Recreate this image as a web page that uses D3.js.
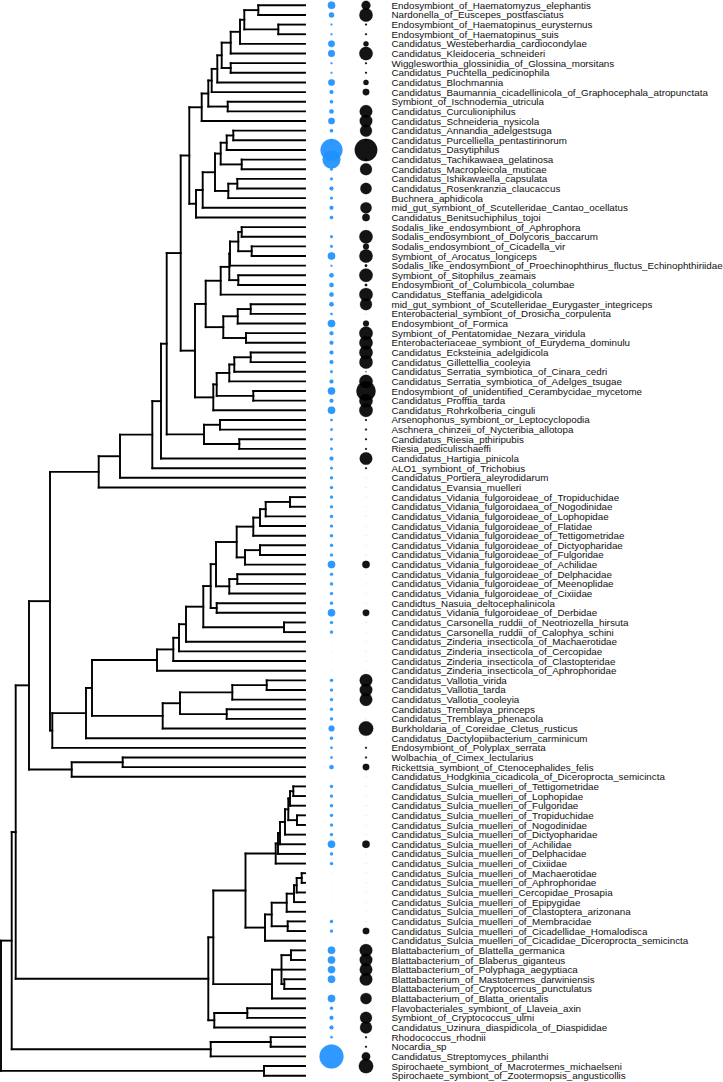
<!DOCTYPE html>
<html>
<head>
<meta charset="utf-8">
<script src="https://cdn.jsdelivr.net/npm/d3@7"></script>
<style>
  html, body { margin: 0; padding: 0; background: #fff; }
  svg { display: block; }
</style>
</head>
<body>
<svg id="chart" width="723" height="1082"></svg>
<script>
// ---------------- DATA ----------------
const tipLabels = [
  "Endosymbiont_of_Haematomyzus_elephantis",
  "Nardonella_of_Euscepes_postfasciatus",
  "Endosymbiont_of_Haematopinus_eurysternus",
  "Endosymbiont_of_Haematopinus_suis",
  "Candidatus_Westeberhardia_cardiocondylae",
  "Candidatus_Kleidoceria_schneideri",
  "Wigglesworthia_glossinidia_of_Glossina_morsitans",
  "Candidatus_Puchtella_pedicinophila",
  "Candidatus_Blochmannia",
  "Candidatus_Baumannia_cicadellinicola_of_Graphocephala_atropunctata",
  "Symbiont_of_Ischnodemia_utricula",
  "Candidatus_Curculioniphilus",
  "Candidatus_Schneideria_nysicola",
  "Candidatus_Annandia_adelgestsuga",
  "Candidatus_Purcelliella_pentastirinorum",
  "Candidatus_Dasytiphilus",
  "Candidatus_Tachikawaea_gelatinosa",
  "Candidatus_Macropleicola_muticae",
  "Candidatus_Ishikawaella_capsulata",
  "Candidatus_Rosenkranzia_claucaccus",
  "Buchnera_aphidicola",
  "mid_gut_symbiont_of_Scutelleridae_Cantao_ocellatus",
  "Candidatus_Benitsuchiphilus_tojoi",
  "Sodalis_like_endosymbiont_of_Aphrophora",
  "Sodalis_endosymbiont_of_Dolycoris_baccarum",
  "Sodalis_endosymbiont_of_Cicadella_vir",
  "Symbiont_of_Arocatus_longiceps",
  "Sodalis_like_endosymbiont_of_Proechinophthirus_fluctus_Echinophthiriidae",
  "Symbiont_of_Sitophilus_zeamais",
  "Endosymbiont_of_Columbicola_columbae",
  "Candidatus_Steffania_adelgidicola",
  "mid_gut_symbiont_of_Scutelleridae_Eurygaster_integriceps",
  "Enterobacterial_symbiont_of_Drosicha_corpulenta",
  "Endosymbiont_of_Formica",
  "Symbiont_of_Pentatomidae_Nezara_viridula",
  "Enterobacteriaceae_symbiont_of_Eurydema_dominulu",
  "Candidatus_Ecksteinia_adelgidicola",
  "Candidatus_Gillettellia_cooleyia",
  "Candidatus_Serratia_symbiotica_of_Cinara_cedri",
  "Candidatus_Serratia_symbiotica_of_Adelges_tsugae",
  "Endosymbiont_of_unidentified_Cerambycidae_mycetome",
  "Candidatus_Profftia_tarda",
  "Candidatus_Rohrkolberia_cinguli",
  "Arsenophonus_symbiont_or_Leptocyclopodia",
  "Aschnera_chinzeii_of_Nycteribia_allotopa",
  "Candidatus_Riesia_pthiripubis",
  "Riesia_pediculischaeffi",
  "Candidatus_Hartigia_pinicola",
  "ALO1_symbiont_of_Trichobius",
  "Candidatus_Portiera_aleyrodidarum",
  "Candidatus_Evansia_muelleri",
  "Candidatus_Vidania_fulgoroideae_of_Tropiduchidae",
  "Candidatus_Vidania_fulgoroidaea_of_Nogodinidae",
  "Candidatus_Vidania_fulgoroideae_of_Lophopidae",
  "Candidatus_Vidania_fulgoroideae_of_Flatidae",
  "Candidatus_Vidania_fulgoroideae_of_Tettigometridae",
  "Candidatus_Vidania_fulgoroideae_of_Dictyopharidae",
  "Candidatus_Vidania_fulgoroideae_of_Fulgoridae",
  "Candidatus_Vidania_fulgoroideae_of_Achilidae",
  "Candidatus_Vidania_fulgoroideae_of_Delphacidae",
  "Candidatus_Vidania_fulgoroideae_of_Meenoplidae",
  "Candidatus_Vidania_fulgoroideae_of_Cixiidae",
  "Candidtus_Nasuia_deltocephalinicola",
  "Candidatus_Vidania_fulgoroideae_of_Derbidae",
  "Candidatus_Carsonella_ruddii_of_Neotriozella_hirsuta",
  "Candidatus_Carsonella_ruddii_of_Calophya_schini",
  "Candidatus_Zinderia_insecticola_of_Machaerotidae",
  "Candidatus_Zinderia_insecticola_of_Cercopidae",
  "Candidatus_Zinderia_insecticola_of_Clastopteridae",
  "Candidatus_Zinderia_insecticola_of_Aphrophoridae",
  "Candidatus_Vallotia_virida",
  "Candidatus_Vallotia_tarda",
  "Candidatus_Vallotia_cooleyia",
  "Candidatus_Tremblaya_princeps",
  "Candidatus_Tremblaya_phenacola",
  "Burkholdaria_of_Coreidae_Cletus_rusticus",
  "Candidatus_Dactylopiibacterium_carminicum",
  "Endosymbiont_of_Polyplax_serrata",
  "Wolbachia_of_Cimex_lectularius",
  "Rickettsia_symbiont_of_Ctenocephalides_felis",
  "Candidatus_Hodgkinia_cicadicola_of_Diceroprocta_semicincta",
  "Candidatus_Sulcia_muelleri_of_Tettigometridae",
  "Candidatus_Sulcia_muelleri_of_Lophopidae",
  "Candidatus_Sulcia_muelleri_of_Fulgoridae",
  "Candidatus_Sulcia_muelleri_of_Tropiduchidae",
  "Candidatus_Sulcia_muelleri_of_Nogodinidae",
  "Candidatus_Sulcia_muelleri_of_Dictyopharidae",
  "Candidatus_Sulcia_muelleri_of_Achilidae",
  "Candidatus_Sulcia_muelleri_of_Delphacidae",
  "Candidatus_Sulcia_muelleri_of_Cixiidae",
  "Candidatus_Sulcia_muelleri_of_Machaerotidae",
  "Candidatus_Sulcia_muelleri_of_Aphrophoridae",
  "Candidatus_Sulcia_muelleri_Cercopidae_Prosapia",
  "Candidatus_Sulcia_muelleri_of_Epipygidae",
  "Candidatus_Sulcia_muelleri_of_Clastoptera_arizonana",
  "Candidatus_Sulcia_muelleri_of_Membracidae",
  "Candidatus_Sulcia_muelleri_of_Cicadellidae_Homalodisca",
  "Candidatus_Sulcia_muelleri_of_Cicadidae_Diceroprocta_semicincta",
  "Blattabacterium_of_Blattella_germanica",
  "Blattabacterium_of_Blaberus_giganteus",
  "Blattabacterium_of_Polyphaga_aegyptiaca",
  "Blattabacterium_of_Mastotermes_darwiniensis",
  "Blattabacterium_of_Cryptocercus_punctulatus",
  "Blattabacterium_of_Blatta_orientalis",
  "Flavobacteriales_symbiont_of_Llaveia_axin",
  "Symbiont_of_Cryptococcus_ulmi",
  "Candidatus_Uzinura_diaspidicola_of_Diaspididae",
  "Rhodococcus_rhodnii",
  "Nocardia_sp",
  "Candidatus_Streptomyces_philanthi",
  "Spirochaete_symbiont_of_Macrotermes_michaelseni",
  "Spirochaete_symbiont_of_Zootermopsis_angusticollis"
];

// blue column values (one per tip, same order)
const blueValues = [
  14, 7, 1, 1, 11, 12, 1, 1, 11, 4,
  3, 5, 11, 3, 2, 121, 81, 2, 2, 4,
  2, 4, 3, 0, 2, 2, 14, 1, 5, 5,
  5, 5, 1.5, 14, 4, 4, 4, 4, 2, 4,
  14, 4, 14, 1.7, 1.7, 1.7, 1.7, 4, 1.7, 2.5,
  2.5, 2.5, 2.5, 2.5, 2.5, 2.5, 2.5, 2.5, 14, 2.5,
  2.5, 2.5, 2.5, 14, 2.5, 2.5, 0, 0, 0, 0,
  2.5, 2.5, 2.5, 2.5, 2.5, 9, 2.5, 1.5, 1.5, 5,
  0, 2.5, 2.5, 2.5, 2.5, 2.5, 2.5, 14, 2.5, 2.5,
  0, 0, 0, 0, 0, 2.5, 2.5, 0, 14, 14,
  14, 14, 0, 14, 2.5, 4, 4, 1.5, 0, 144,
  0, 0
];

// black column values (one per tip, same order)
const blackValues = [
  20, 45, 1, 1, 7, 45, 1, 1, 7, 11,
  0, 40, 40, 36, 1, 128, 1, 36, 0, 32,
  0, 32, 14, 0, 45, 9, 45, 1.7, 45, 1.7,
  45, 36, 0, 9, 45, 45, 45, 45, 0.3, 45,
  94, 45, 45, 1, 1, 1, 1, 40, 1, 0,
  0, 0, 0, 0, 0, 0, 0, 0, 14, 0,
  0, 0, 0, 11, 0, 0, 0, 0, 0, 0,
  40, 40, 40, 0, 0, 53, 0, 1, 1, 11,
  0, 0, 0, 0, 0, 0, 0, 14, 0, 0,
  0, 0, 0, 0, 0, 0, 11, 0, 40, 40,
  40, 40, 0, 32, 0, 36, 36, 1, 1, 18,
  53, 0
];

// Tree topology: internal node = [height above tips, ...children]; tip = 1-based index into tipLabels
const treeTopology =
[304,
  [293.3,
    [289.3,
      [276,
        [255,
          [206.3,
            [185,
              [152.7,
                [144,
                  [138.3,
                    [124.3,
                      [115.7,
                        [103.3,
                          [96.7,
                            [93.3,
                              [87.7,
                                [83.3,
                                  [74.3, [65, [60.7, [46.7, 1, 2], [26.7, 3, 4]], 5], 6],
                                  [74.3, 7, 8]],
                                9],
                              10],
                            [77.3, 11, 12]],
                          13],
                        [109,
                          [102.3,
                            [90,
                              [84.3, [78.3, [71.7, 14, 15], 16], [63.3, 17, 18]],
                              [76.7, [67.7, 19, 20], 21]],
                            22],
                          23]],
                      [110,
                        [99.3,
                          [84.3,
                            [75.7, [75, [66.7, [63.3, 24, 25], [53.3, 26, 27]], 28], [66.7, 29, 30]],
                            31],
                          [81.7, [67.3, [54.3, 32, 33], 34], [59, 35, 36]]],
                        [91.7,
                          [88.3, [75.7, [70.7, [54.3, 37, 38], 39], 40], [51.7, 41, 42]],
                          43]]],
                    [101, [85, 44, 45], [65.7, 46, 47]]],
                  48],
                49],
              50],
            51],
          [252.7,
            [219,
              [213,
                [148,
                  [131.7,
                    [126,
                      [119,
                        [101.7,
                          [94.3,
                            [89,
                              [68.3,
                                [51.7, [45, [39.3, [15, 52, 53], 54], 55], 56],
                                [60, [45, 57, 58], 59]],
                              [75.7, [67.7, 60, 61], 62]],
                            [88.3, 63, 64]],
                          [21, 65, 66]],
                        67],
                      68],
                    69],
                  70],
                [142.3, [125, [72.7, [38.3, 71, 72], 73], [78.3, 74, 75]], 76]],
              77],
            78]],
        [233.3, [182.3, 79, 80], 81]],
      [96.7,
        [91.7,
          [59.5,
            [29.3, [27, [25, [20, [16.7, [15, [11.7, 82, 83], 84], [8, 85, 86]], 87], 88], 89], 90],
            [40, [33.3, [18.3, [11, [8.3, [3.3, 91, 92], 93], 94], 95], [17.3, 96, 97]], 98]],
          [33, [23.5, [14, 99, 100], 101, [20.7, 102, 103]], 104]],
        [90.7, [57.7, 105, 106], 107]]],
    [94.3, [34.3, 108, 109], 110]],
  [41, 111, 112]];

// ---------------- LAYOUT ----------------
const svg = d3.select("#chart");
const layout = {
  rootX: 1, tipX: 305,
  topY: 5.3, bottomY: 1075.7,
  blueX: 331.5, blackX: 366, labelX: 391.5
};

const maxHeight = treeTopology[0];
const x = d3.scaleLinear().domain([maxHeight, 0]).range([layout.rootX, layout.tipX]);
const y = d3.scalePoint().domain(d3.range(tipLabels.length)).range([layout.topY, layout.bottomY]);
const r = d3.scaleSqrt().domain([0, 144]).range([0, 12]);

function build(n) {
  if (typeof n === "number") return { tip: n - 1, h: 0 };
  return { h: n[0], children: n.slice(1).map(build) };
}
const root = d3.hierarchy(build(treeTopology));
root.eachAfter(d => {
  if (!d.children) { d.py = y(d.data.tip); }
  else { d.py = (d.children[0].py + d.children[d.children.length - 1].py) / 2; }
  d.px = x(d.data.h);
});

// tree lines
const g = svg.append("g")
  .attr("fill", "none").attr("stroke", "#000")
  .attr("stroke-width", 1.9).attr("stroke-linecap", "square");

root.descendants().filter(d => d.children).forEach(d => {
  const first = d.children[0], last = d.children[d.children.length - 1];
  g.append("path").attr("d", `M${d.px},${first.py}V${last.py}`);
  d.children.forEach(c => {
    g.append("path").attr("d", `M${d.px},${c.py}H${c.px}`);
  });
});

// circle columns
function drawColumn(values, cx, color) {
  const gg = svg.append("g");
  values.forEach((v, i) => {
    if (v > 0) {
      gg.append("circle")
        .attr("cx", cx).attr("cy", y(i)).attr("r", r(v))
        .attr("fill", color).attr("fill-opacity", 0.92)
        .attr("stroke", color).attr("stroke-opacity", 0.35).attr("stroke-width", 0.5);
    } else {
      gg.append("circle")
        .attr("cx", cx).attr("cy", y(i)).attr("r", 0.6)
        .attr("fill", color).attr("fill-opacity", 0.15);
    }
  });
}
drawColumn(blueValues, layout.blueX, "#1E90FF");
drawColumn(blackValues, layout.blackX, "#000000");

// labels
svg.append("g")
  .attr("font-family", "'Liberation Sans', Arial, Helvetica, sans-serif")
  .attr("font-size", 9.8)
  .attr("fill", "#111")
  .selectAll("text")
  .data(tipLabels)
  .join("text")
  .attr("x", layout.labelX)
  .attr("y", (d, i) => y(i))
  .attr("dy", "0.36em")
  .text(d => d);
</script>
</body>
</html>
